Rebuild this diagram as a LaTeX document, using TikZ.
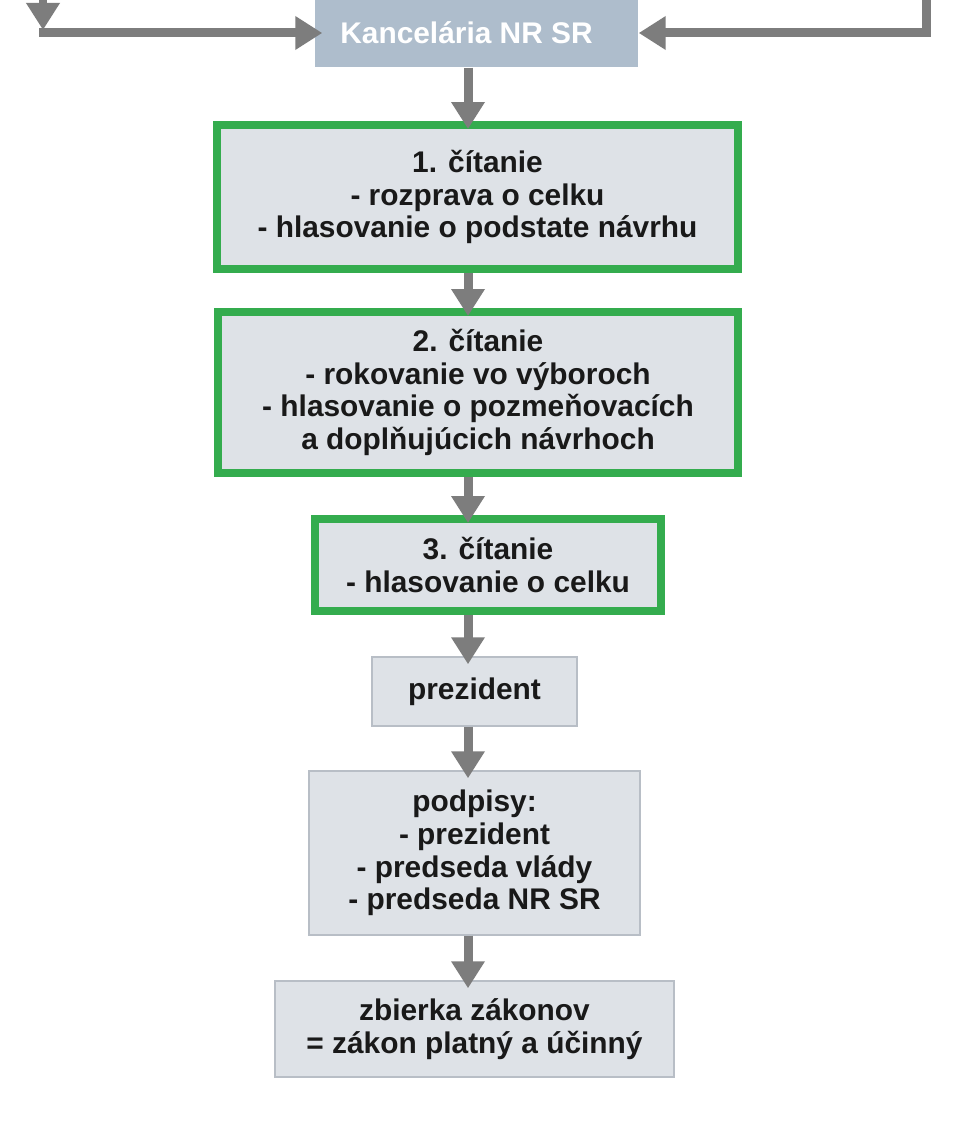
\documentclass[tikz,border=0pt]{standalone}
\usepackage{fontspec}
\setmainfont{Liberation Sans}
\usetikzlibrary{arrows.meta}
\definecolor{boxfill}{RGB}{222,226,231}
\definecolor{boxline}{RGB}{184,190,198}
\definecolor{kancfill}{RGB}{174,189,204}
\definecolor{readgreen}{RGB}{52,172,78}
\definecolor{flowgray}{RGB}{125,125,125}

\begin{document}
\begin{tikzpicture}[x=0.02cm,y=-0.02cm,
    flow/.style={draw=flowgray,line width=0.18cm,
      -{Triangle[width=0.64cm,length=0.54cm]},shorten >=-0.16cm}]

    \useasboundingbox[fill=white] (0,0) rectangle (970,1124);

    % the boxes
    \tikzstyle{box}=[fill=boxfill,draw=boxline,line width=0.85pt,
      align=center,inner sep=0pt,text=black!90,
      font=\fontsize{17}{18.6}\selectfont\bfseries]
    \tikzstyle{reading}=[box,draw=readgreen,line width=0.16cm]

    \node[box,draw=none,fill=kancfill,text=white,minimum width=6.46cm,
      minimum height=1.36cm] (kanc) at (476.5,33) {Kancelária NR SR\hspace*{0.4cm}};
    \node[reading,minimum width=10.42cm,minimum height=2.88cm] (read1)
      at (477.5,197) {1. čítanie\\- rozprava o celku\\- hlasovanie o podstate návrhu};
    \node[reading,minimum width=10.4cm,minimum height=3.22cm] (read2)
      at (478,392.5) {2. čítanie\\- rokovanie vo výboroch\\- hlasovanie o pozmeňovacích\\a doplňujúcich návrhoch};
    \node[reading,minimum width=6.92cm,minimum height=1.84cm] (read3)
      at (488,565) {3. čítanie\\- hlasovanie o celku};
    \node[box,minimum width=4.1cm,minimum height=1.38cm] (prez)
      at (474.5,691.5) {prezident};
    \node[box,minimum width=6.62cm,minimum height=3.28cm] (sign)
      at (474.5,853) {podpisy:\\- prezident\\- predseda vlády\\- predseda NR SR};
    \node[box,minimum width=7.98cm,minimum height=1.92cm] (zbierka)
      at (474.5,1029) {zbierka zákonov\\= zákon platný a účinný};

    % the arrows
    \coordinate (axis) at (468,0);
    \coordinate (ltop) at (43,-20);
    \coordinate (lcorner) at (43,33);
    \coordinate (rtop) at (926,-20);

    \draw[flow,shorten >=0.06cm] (ltop) -- (lcorner);
    \draw[flow,line cap=rect] (lcorner) -- (kanc.west);
    \draw[flow,shorten >=0pt] (rtop) |- (kanc.east);

    \draw[flow] (kanc.south -| axis) -- (read1.north -| axis);
    \draw[flow] (read1.south -| axis) -- (read2.north -| axis);
    \draw[flow] (read2.south -| axis) -- (read3.north -| axis);
    \draw[flow] (read3.south -| axis) -- (prez.north -| axis);
    \draw[flow] (prez.south -| axis) -- (sign.north -| axis);
    \draw[flow] (sign.south -| axis) -- (zbierka.north -| axis);

  \end{tikzpicture}
\end{document}
